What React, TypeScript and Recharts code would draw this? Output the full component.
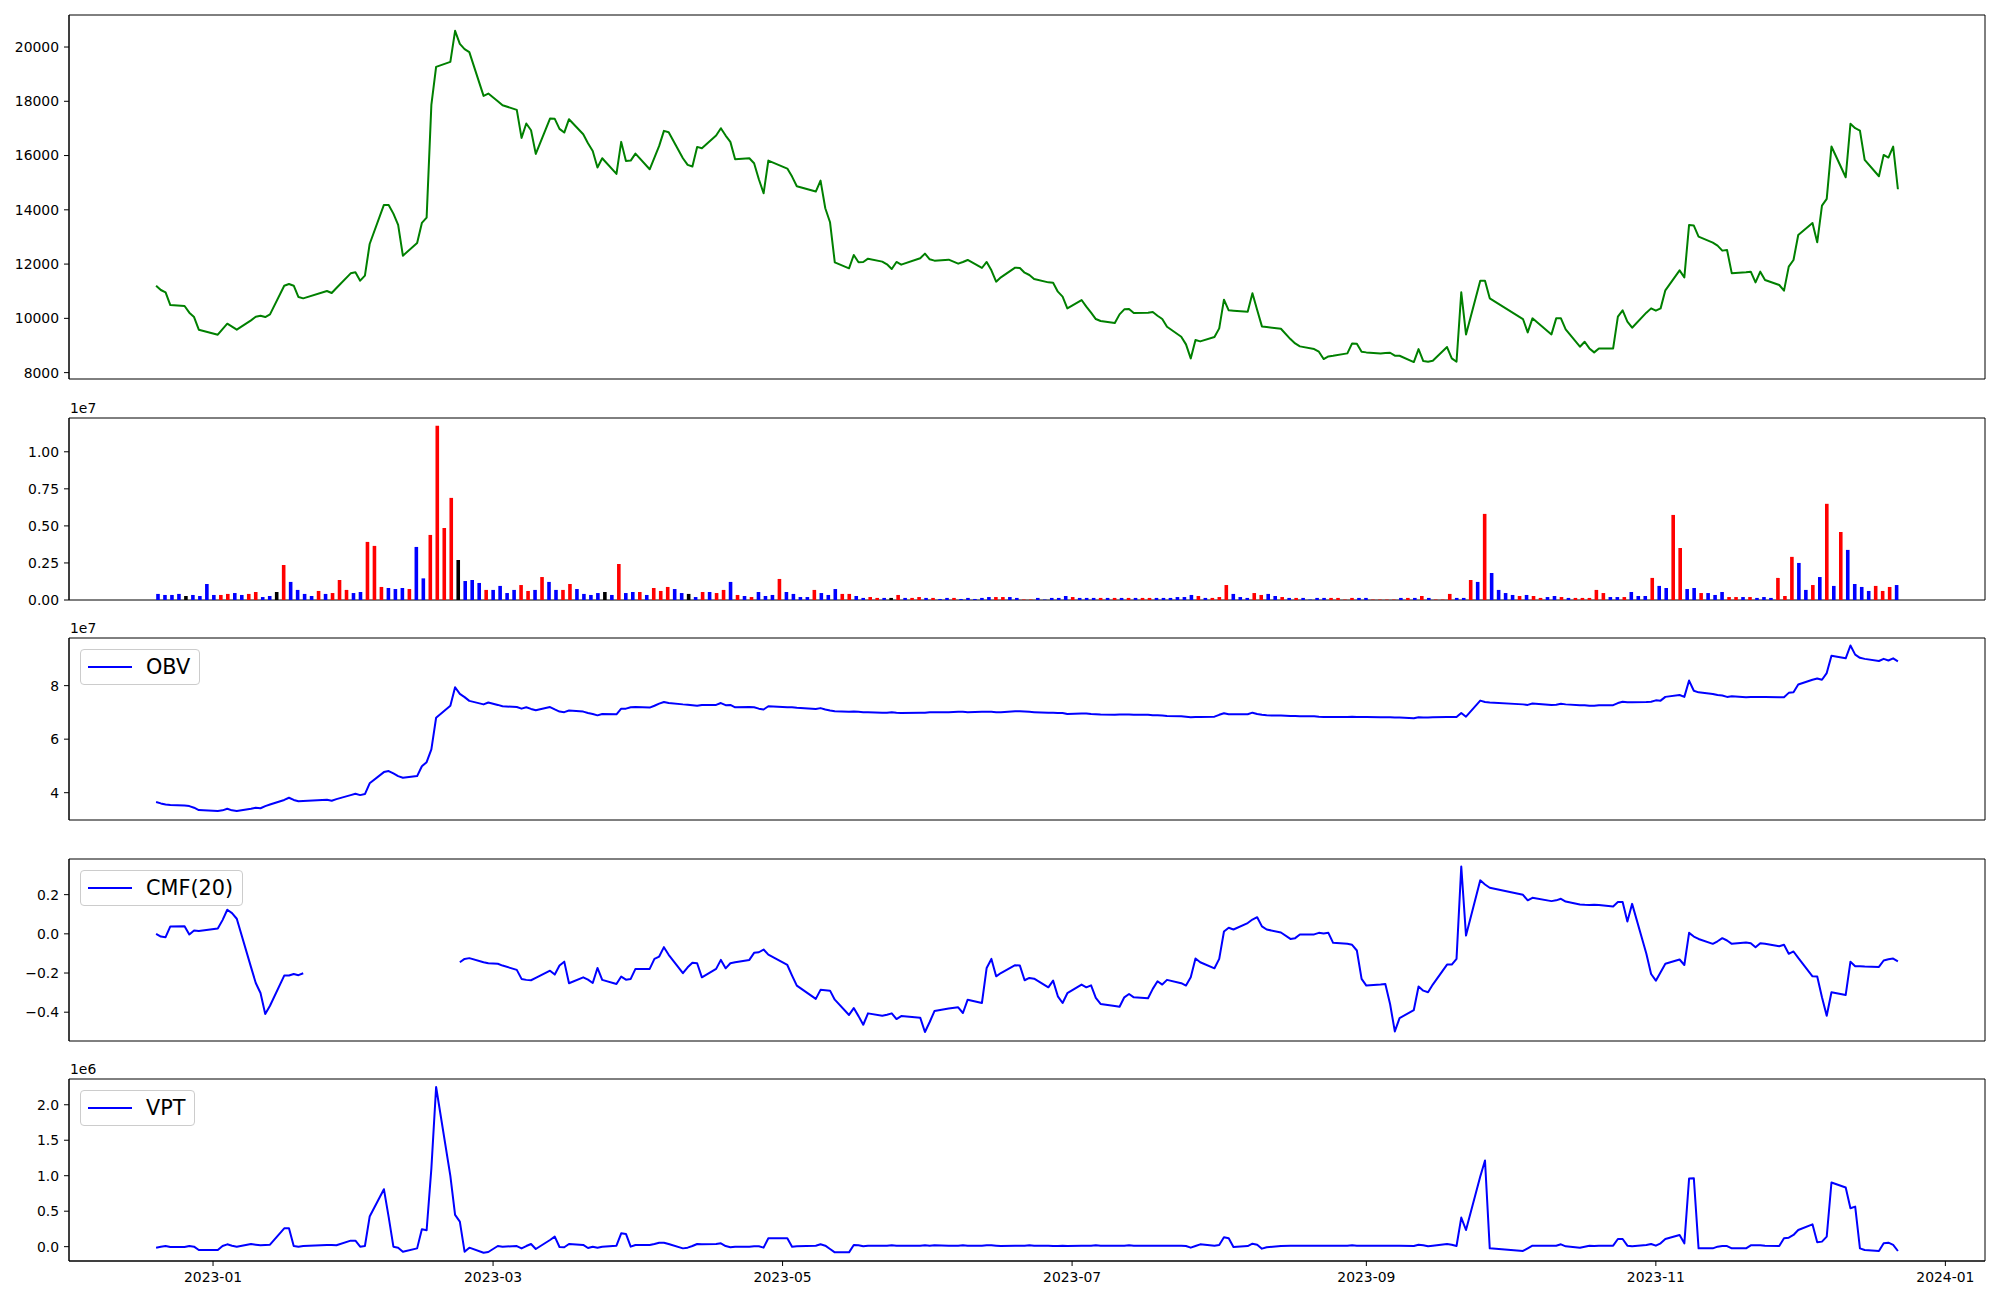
import React from "react"
import { LineChart, BarChart, Line, Bar, Cell, XAxis, YAxis, Legend, Label, ReferenceArea } from "recharts"

const FONT = "DejaVu Sans, sans-serif"

// KRX trading calendar covered by the chart
const START = "2022-12-20"
const END = "2023-12-22"
const HOLIDAYS = [
  "2022-12-30", "2023-01-23", "2023-01-24", "2023-03-01", "2023-05-01", "2023-05-05",
  "2023-05-29", "2023-06-06", "2023-08-15", "2023-09-28", "2023-09-29", "2023-10-02",
  "2023-10-03", "2023-10-09",
]

// close price, one value per trading day (grouped by month)
const PRICE = [
  11204, 11045, 10959, 10491, 10455, 10209, 10049, 9582,
  9397, 9606, 9803, 9692, 9582, 9926, 10061, 10098, 10049, 10147, 11204, 11266, 11204, 10786, 10737, 11008, 10934, 11118, 11659, 11696,
  11389, 11573, 12741, 14180, 14180, 13860, 13442, 12311, 12778, 13516, 13713, 17868, 19270, 19454, 20598, 20118, 19922, 19811, 18200, 18286,
  18004, 17856, 17684, 16651, 17180, 16934, 16061, 17364, 17352, 16983, 16848, 17340, 16786, 16454, 16171, 15557, 15901, 15323, 16504, 15803, 15815, 16073,
  15495, 15926, 16356, 16909, 16860, 15901, 15655, 15594, 16319, 16270, 16737, 17008, 16737, 16504, 15864, 15901, 15717, 15127, 14610, 15815,
  15520, 15225, 14868, 14672, 15077, 14057, 13541, 12065, 11844, 12336, 12065, 12078, 12200, 12090, 11991, 11819, 12078, 11979, 12213, 12385,
  12176, 12127, 12164, 12016, 12078, 12151, 11856, 12078, 11770, 11352, 11512, 11868, 11856, 11684, 11598, 11450, 11327, 11315, 10983, 10799, 10368,
  10676, 10430, 10209, 9975, 9901, 9827, 10147, 10332, 10344, 10197, 10209, 10233, 10098, 9975, 9692, 9323, 9041, 8524, 9200, 9151, 9311,
  9631, 10688, 10295, 10282, 10245, 10922, 10307, 9704, 9680, 9618, 9237, 9077, 8967, 8868, 8770, 8500, 8598, 8622, 8709, 9077, 9065, 8770,
  8746, 8709, 8721, 8733, 8623, 8623, 8389, 8868, 8426, 8401, 8438, 8942, 8524, 8401, 10959, 9409, 11389, 11389, 10737,
  9975, 9483, 10000, 9409, 10000, 10000, 9594, 8954, 9139, 8893, 8746, 8893, 8893, 10061, 10295, 9877, 9655, 10209, 10368,
  10283, 10368, 11032, 11770, 11512, 13442, 13418, 13012, 12791, 12680, 12496, 12520, 11659, 11696, 11721, 11327, 11721, 11413, 11229, 11020, 11905, 12151,
  13073, 13516, 12803, 14155, 14401, 16332, 15200, 17168, 17008, 16922, 15840, 15237, 16024, 15926, 16332, 14758,
]

// volume in units of 1e7
const VOLUME = [
  0.041, 0.034, 0.034, 0.041, 0.027, 0.034, 0.027, 0.108,
  0.034, 0.034, 0.041, 0.047, 0.034, 0.041, 0.054, 0.020, 0.027, 0.054, 0.236, 0.122, 0.068, 0.041, 0.027, 0.061, 0.041, 0.047, 0.135, 0.068,
  0.047, 0.054, 0.392, 0.365, 0.088, 0.081, 0.074, 0.081, 0.074, 0.358, 0.146, 0.439, 1.176, 0.486, 0.689, 0.270, 0.128, 0.135, 0.115, 0.068,
  0.068, 0.095, 0.047, 0.068, 0.101, 0.061, 0.068, 0.155, 0.122, 0.068, 0.068, 0.108, 0.074, 0.041, 0.034, 0.047, 0.054, 0.034, 0.243, 0.047, 0.054, 0.054,
  0.034, 0.081, 0.061, 0.088, 0.074, 0.047, 0.041, 0.020, 0.054, 0.054, 0.047, 0.068, 0.122, 0.034, 0.027, 0.020, 0.054, 0.027, 0.034, 0.142,
  0.054, 0.041, 0.020, 0.020, 0.068, 0.047, 0.034, 0.074, 0.041, 0.041, 0.027, 0.014, 0.020, 0.014, 0.014, 0.014, 0.034, 0.014, 0.014, 0.020,
  0.014, 0.014, 0.007, 0.014, 0.014, 0.007, 0.014, 0.007, 0.014, 0.020, 0.020, 0.020, 0.020, 0.014, 0.003, 0.003, 0.014, 0.003, 0.014, 0.014, 0.027,
  0.020, 0.014, 0.014, 0.014, 0.014, 0.014, 0.014, 0.014, 0.014, 0.014, 0.014, 0.014, 0.014, 0.014, 0.014, 0.020, 0.020, 0.034, 0.027, 0.014, 0.014,
  0.020, 0.101, 0.041, 0.020, 0.014, 0.047, 0.034, 0.041, 0.027, 0.020, 0.014, 0.014, 0.014, 0.003, 0.014, 0.014, 0.014, 0.014, 0.003, 0.014, 0.014, 0.014,
  0.003, 0.003, 0.003, 0.003, 0.014, 0.014, 0.014, 0.027, 0.014, 0.003, 0.003, 0.041, 0.014, 0.014, 0.135, 0.122, 0.581, 0.182, 0.068,
  0.047, 0.034, 0.027, 0.034, 0.027, 0.014, 0.020, 0.027, 0.020, 0.014, 0.014, 0.014, 0.014, 0.068, 0.047, 0.020, 0.020, 0.020, 0.054,
  0.027, 0.027, 0.149, 0.095, 0.081, 0.574, 0.351, 0.074, 0.081, 0.047, 0.047, 0.034, 0.054, 0.020, 0.020, 0.020, 0.020, 0.014, 0.020, 0.014, 0.149, 0.027,
  0.291, 0.250, 0.068, 0.101, 0.155, 0.649, 0.095, 0.459, 0.338, 0.108, 0.088, 0.061, 0.095, 0.061, 0.088, 0.101,
]

// bar colour per day: r = up candle, b = down candle, k = unchanged
const VOLUME_COLOR = [
  "bbbbkbbb",
  "brrbbrrbbkrbbbbrbrrr",
  "bbrrrbbbrbbrrrrkbbbr",
  "bbbbrrbrbbrrbbbbkbrbbr",
  "brrrbbkbrbrrbrbrbbbr",
  "bbbbrbbbrrbbrrbkrbrr",
  "brbbrbbbbbrrbbrrbbbbb",
  "rbbbrbrbrbrrbbbbbbrbr",
  "rrbbbrrbbrbrbbbbrrrrbb",
  "rrrrbrbrbrrrbbrbrbb",
  "bbrbrrbbrbrrrrrbbrb",
  "bbrbbrrbbrbbbrrbrbbbrr",
  "rbbrbrbrbbbbrrrb",
].join("")

// on-balance volume, units of 1e7
const OBV = [
  3.65, 3.60, 3.56, 3.54, 3.52, 3.50, 3.44, 3.35,
  3.32, 3.34, 3.40, 3.34, 3.32, 3.40, 3.44, 3.42, 3.50, 3.56, 3.73, 3.81, 3.73, 3.68, 3.69, 3.74, 3.70, 3.76, 3.91, 3.96,
  3.91, 3.95, 4.35, 4.77, 4.81, 4.72, 4.62, 4.56, 4.62, 4.99, 5.14, 5.62, 6.80, 7.25, 7.94, 7.69, 7.57, 7.43, 7.30, 7.37,
  7.28, 7.23, 7.20, 7.14, 7.19, 7.13, 7.08, 7.20, 7.11, 7.03, 7.01, 7.07, 7.03, 6.98, 6.94, 6.89, 6.94, 6.93, 7.14, 7.14, 7.19, 7.20,
  7.18, 7.25, 7.33, 7.39, 7.35, 7.30, 7.29, 7.27, 7.25, 7.28, 7.28, 7.35, 7.27, 7.28, 7.19, 7.20, 7.19, 7.14, 7.11, 7.23,
  7.19, 7.19, 7.17, 7.13, 7.16, 7.11, 7.07, 7.04, 7.02, 7.03, 7.02, 7.01, 7.01, 6.99, 6.99, 7.01, 6.99, 6.98, 6.99, 6.99,
  7.01, 7.01, 7.01, 7.02, 7.02, 7.01, 7.02, 7.02, 7.02, 7.01, 7.01, 7.04, 7.04, 7.03, 7.02, 7.01, 6.99, 6.99, 6.98, 6.98, 6.94,
  6.96, 6.96, 6.94, 6.93, 6.92, 6.91, 6.92, 6.92, 6.92, 6.91, 6.91, 6.89, 6.89, 6.88, 6.87, 6.86, 6.84, 6.82, 6.83, 6.83, 6.84,
  6.91, 6.97, 6.93, 6.93, 6.93, 6.99, 6.94, 6.91, 6.89, 6.88, 6.87, 6.87, 6.86, 6.86, 6.84, 6.83, 6.83, 6.83, 6.83, 6.84, 6.83, 6.83,
  6.83, 6.82, 6.82, 6.82, 6.81, 6.81, 6.78, 6.82, 6.81, 6.81, 6.82, 6.83, 6.83, 6.83, 6.98, 6.84, 7.44, 7.39, 7.37,
  7.30, 7.28, 7.33, 7.28, 7.29, 7.32, 7.30, 7.27, 7.27, 7.25, 7.25, 7.27, 7.27, 7.35, 7.40, 7.38, 7.38, 7.39, 7.40,
  7.45, 7.44, 7.58, 7.65, 7.58, 8.19, 7.81, 7.75, 7.69, 7.65, 7.63, 7.58, 7.60, 7.57, 7.58, 7.58, 7.58, 7.58, 7.57, 7.57, 7.73, 7.75,
  8.04, 8.22, 8.27, 8.22, 8.47, 9.12, 9.02, 9.50, 9.16, 9.04, 9.00, 8.92, 9.00, 8.94, 9.02, 8.91,
]

// Chaikin money flow (20), null where undefined
const CMF = [
  0.000, -0.014, -0.017, 0.038, 0.039, -0.003, 0.017, 0.014,
  0.027, 0.070, 0.123, 0.106, 0.077, -0.170, -0.251, -0.302, -0.409, -0.367, -0.213, -0.213, -0.205, -0.211, -0.201, null, null, null, null, null,
  null, null, null, null, null, null, null, null, null, null, null, null, null, null, null, -0.145, -0.128, -0.124, -0.145, -0.150,
  -0.153, -0.162, -0.184, -0.230, -0.235, -0.237, -0.225, -0.188, -0.208, -0.162, -0.142, -0.252, -0.222, -0.234, -0.251, -0.174, -0.235, -0.256, -0.218, -0.234, -0.230, -0.179,
  -0.179, -0.128, -0.116, -0.068, -0.107, -0.201, -0.171, -0.148, -0.150, -0.222, -0.179, -0.133, -0.176, -0.150, -0.145, -0.133, -0.097, -0.094, -0.080, -0.106,
  -0.159, -0.213, -0.264, -0.332, -0.286, -0.288, -0.290, -0.336, -0.414, -0.379, -0.420, -0.464, -0.406, -0.418, -0.413, -0.406, -0.435, -0.420, -0.428, -0.501,
  -0.450, -0.394, -0.381, -0.375, -0.404, -0.336, -0.353, -0.174, -0.128, -0.217, -0.200, -0.160, -0.162, -0.237, -0.225, -0.229, -0.273, -0.239, -0.319, -0.353, -0.303,
  -0.259, -0.273, -0.263, -0.327, -0.358, -0.368, -0.372, -0.324, -0.307, -0.324, -0.329, -0.281, -0.242, -0.259, -0.235, -0.252, -0.264, -0.222, -0.126, -0.145, -0.176,
  -0.128, 0.012, 0.031, 0.022, 0.055, 0.073, 0.085, 0.038, 0.022, 0.007, -0.026, -0.022, -0.003, -0.003, 0.005, 0.002, 0.005, -0.046, -0.051, -0.056, -0.085, -0.230,
  -0.264, -0.259, -0.256, -0.358, -0.498, -0.430, -0.389, -0.269, -0.290, -0.298, -0.259, -0.157, -0.157, -0.128, 0.344, -0.009, 0.273, 0.252, 0.235,
  0.199, 0.171, 0.184, 0.167, 0.171, 0.179, 0.165, 0.150, 0.148, 0.147, 0.148, 0.147, 0.140, 0.162, 0.162, 0.063, 0.153, -0.102, -0.205,
  -0.239, -0.196, -0.153, -0.131, -0.159, 0.005, -0.014, -0.026, -0.051, -0.038, -0.022, -0.034, -0.051, -0.044, -0.048, -0.068, -0.048, -0.051, -0.063, -0.056, -0.102, -0.090,
  -0.123, -0.217, -0.218, -0.324, -0.418, -0.298, -0.312, -0.142, -0.165, -0.165, -0.167, -0.169, -0.136, -0.130, -0.126, -0.140,
]

// volume price trend, units of 1e6
const VPT = [
  -0.014, 0.000, 0.009, -0.005, -0.005, 0.009, 0.000, -0.047,
  -0.047, 0.009, 0.033, 0.014, 0.000, 0.038, 0.028, 0.019, 0.024, 0.028, 0.259, 0.259, 0.009, 0.000, 0.009, 0.024, 0.024, 0.019, 0.085, 0.085,
  0.000, 0.009, 0.424, 0.810, 0.420, 0.000, -0.014, -0.071, -0.024, 0.245, 0.231, 1.100, 2.250, 0.998, 0.447, 0.353, -0.071, -0.014, -0.085, -0.075,
  0.009, 0.000, 0.009, -0.024, 0.009, 0.038, -0.033, 0.094, 0.141, -0.005, -0.009, 0.038, 0.024, -0.019, 0.000, -0.014, 0.000, 0.014, 0.188, 0.179, 0.000, 0.024,
  0.024, 0.038, 0.056, 0.056, 0.038, -0.024, -0.014, 0.009, 0.038, 0.033, 0.038, 0.047, 0.009, -0.009, 0.000, 0.000, 0.005, 0.005, -0.014, 0.118,
  0.118, 0.000, 0.005, 0.014, 0.033, 0.014, -0.033, -0.080, -0.080, 0.024, 0.019, 0.005, 0.014, 0.014, 0.014, 0.019, 0.014, 0.014, 0.014, 0.019,
  0.014, 0.019, 0.014, 0.014, 0.019, 0.014, 0.014, 0.019, 0.019, 0.014, 0.009, 0.014, 0.014, 0.014, 0.019, 0.014, 0.014, 0.009, 0.009, 0.014, 0.009,
  0.014, 0.014, 0.014, 0.019, 0.014, 0.014, 0.014, 0.014, 0.019, 0.014, 0.014, 0.014, 0.014, 0.014, 0.014, 0.014, 0.009, -0.014, 0.009, 0.033, 0.014,
  0.024, 0.132, 0.118, -0.005, 0.009, 0.042, 0.028, -0.028, -0.009, 0.009, 0.014, 0.014, 0.014, 0.014, 0.014, 0.014, 0.014, 0.014, 0.014, 0.019, 0.014, 0.014,
  0.014, 0.014, 0.014, 0.014, 0.014, 0.014, 0.009, 0.028, 0.019, 0.005, 0.014, 0.038, 0.028, 0.009, 0.410, 0.235, 0.989, 1.215, -0.024,
  -0.061, -0.024, 0.014, 0.014, 0.014, 0.033, 0.005, -0.014, 0.000, 0.014, 0.009, 0.014, 0.014, 0.108, 0.108, 0.014, 0.005, 0.024, 0.038,
  0.014, 0.047, 0.108, 0.165, 0.047, 0.960, 0.965, -0.024, -0.024, 0.000, 0.009, 0.009, -0.024, -0.024, 0.019, 0.019, 0.019, 0.014, 0.009, 0.118, 0.127, 0.165,
  0.235, 0.315, 0.061, 0.071, 0.141, 0.904, 0.833, 0.541, 0.565, -0.024, -0.047, -0.061, 0.047, 0.056, 0.024, -0.061,
]

const X_TICKS = [0, 59, 120, 181, 243, 304, 365]
const X_TICK_LABELS = ["2023-01", "2023-03", "2023-05", "2023-07", "2023-09", "2023-11", "2024-01"]
const PRICE_TICKS = [8000, 10000, 12000, 14000, 16000, 18000, 20000]
const VOLUME_TICKS = [0, 0.25, 0.5, 0.75, 1.0]
const OBV_TICKS = [4, 6, 8]
const CMF_TICKS = [-0.4, -0.2, 0, 0.2]
const VPT_TICKS = [0, 0.5, 1.0, 1.5, 2.0]

const DAY = 86400000
const EPOCH = Date.UTC(2023, 0, 1)

// day offsets (from 2023-01-01) of every trading session
function tradingDays(): number[] {
  const skip = new Set(HOLIDAYS)
  const out: number[] = []
  for (let t = Date.parse(START); t <= Date.parse(END); t += DAY) {
    const dt = new Date(t)
    const wd = dt.getUTCDay()
    if (wd === 0 || wd === 6 || skip.has(dt.toISOString().slice(0, 10))) continue
    out.push(Math.round((t - EPOCH) / DAY))
  }
  return out
}

const days = tradingDays()
const rows = days.map((d, i) => ({ d, price: PRICE[i], obv: OBV[i], cmf: CMF[i], vpt: VPT[i] }))
const volRows = VOLUME.map((v, i) => ({ i, v, c: VOLUME_COLOR[i] }))

const COLORS: Record<string, string> = { r: "#ff0000", b: "#0000ff", k: "#000000" }

const X_DOMAIN = [-30.35, 373.35]
const IDX_DOMAIN = [-12.7, 261.7]
const PRICE_DOMAIN = [7765, 21180]
const VOLUME_DOMAIN = [0, 1.228]
const OBV_DOMAIN = [2.98, 9.78]
const CMF_DOMAIN = [-0.547, 0.382]
const VPT_DOMAIN = [-0.202, 2.363]

const AXIS = { stroke: "#000", strokeWidth: 1 }
const TICK = { fontSize: 13.9, fill: "#000", fontFamily: FONT }
const W = 2000
const MARGIN_RIGHT = 15
const Y_WIDTH = 69

const minus = (s: string) => s.replace("-", "\u2212")

function OffsetText({ viewBox, text }: any) {
  if (!viewBox) return null
  return (
    <text x={viewBox.x + viewBox.width + 1} y={viewBox.y - 5} fontSize={13.9} fontFamily={FONT} fill="#000">
      {text}
    </text>
  )
}

function LegendBox({ label }: { label: string }) {
  return (
    <div
      style={{
        display: "inline-flex",
        alignItems: "center",
        border: "1px solid #cccccc",
        borderRadius: 4,
        background: "rgba(255,255,255,0.8)",
        padding: "7px 9px 7px 7px",
        fontFamily: FONT,
        fontSize: 20.8,
        lineHeight: "20.4px",
        color: "#000",
        whiteSpace: "nowrap",
      }}
    >
      <svg width={44} height={4} style={{ display: "block" }}>
        <line x1={0} y1={2} x2={44} y2={2} stroke="#0000ff" strokeWidth={2} />
      </svg>
      <span style={{ marginLeft: 14 }}>{label}</span>
    </div>
  )
}

// full box of spines around the plot area
function frame(xd: number[], yd: number[]) {
  return (
    <ReferenceArea x1={xd[0]} x2={xd[1]} y1={yd[0]} y2={yd[1]} ifOverflow="visible"
      fill="none" fillOpacity={0} stroke="#000" strokeWidth={1} />
  )
}

function legend(label: string) {
  return (
    <Legend
      layout="horizontal"
      verticalAlign="middle"
      align="center"
      content={() => <LegendBox label={label} />}
      wrapperStyle={{ left: 80, top: 33.5, width: "auto", height: "auto" }}
    />
  )
}

function Slot({ top, children }: { top: number; children: React.ReactNode }) {
  return <div style={{ position: "absolute", left: 0, top }}>{children}</div>
}

export default function App() {
  return (
    <div style={{ position: "absolute", left: 0, top: 0, width: 2000, height: 1300, background: "#fff", overflow: "hidden" }}>
      {/* price */}
      <Slot top={0}>
        <LineChart width={W} height={385} data={rows} margin={{ top: 15, right: MARGIN_RIGHT, bottom: 6, left: 0 }}>
          <XAxis dataKey="d" type="number" domain={X_DOMAIN} allowDataOverflow height={0} tick={false} tickLine={false} axisLine={AXIS} />
          <YAxis width={Y_WIDTH} domain={PRICE_DOMAIN} allowDataOverflow ticks={PRICE_TICKS} interval={0}
            tick={TICK} tickLine={AXIS} axisLine={AXIS} tickSize={5} tickMargin={5} />
          {frame(X_DOMAIN, PRICE_DOMAIN)}
          <Line type="linear" dataKey="price" stroke="#008000" strokeWidth={2} strokeLinejoin="round" dot={false} isAnimationActive={false} />
        </LineChart>
      </Slot>

      {/* volume */}
      <Slot top={395}>
        <BarChart width={W} height={215} data={volRows} margin={{ top: 23, right: MARGIN_RIGHT, bottom: 10, left: 0 }}>
          <XAxis dataKey="i" type="number" domain={IDX_DOMAIN} allowDataOverflow height={0} tick={false} tickLine={false} axisLine={AXIS} />
          <YAxis width={Y_WIDTH} domain={VOLUME_DOMAIN} allowDataOverflow ticks={VOLUME_TICKS} interval={0}
            tickFormatter={(v: number) => v.toFixed(2)} tick={TICK} tickLine={AXIS} axisLine={AXIS} tickSize={5} tickMargin={5}>
            <Label content={<OffsetText text="1e7" />} />
          </YAxis>
          {frame(IDX_DOMAIN, VOLUME_DOMAIN)}
          <Bar dataKey="v" barSize={3.6} isAnimationActive={false}>
            {volRows.map((r) => (
              <Cell key={r.i} fill={COLORS[r.c]} />
            ))}
          </Bar>
        </BarChart>
      </Slot>

      {/* OBV */}
      <Slot top={615}>
        <LineChart width={W} height={210} data={rows} margin={{ top: 23, right: MARGIN_RIGHT, bottom: 5, left: 0 }}>
          <XAxis dataKey="d" type="number" domain={X_DOMAIN} allowDataOverflow height={0} tick={false} tickLine={false} axisLine={AXIS} />
          <YAxis width={Y_WIDTH} domain={OBV_DOMAIN} allowDataOverflow ticks={OBV_TICKS} interval={0}
            tick={TICK} tickLine={AXIS} axisLine={AXIS} tickSize={5} tickMargin={5}>
            <Label content={<OffsetText text="1e7" />} />
          </YAxis>
          {frame(X_DOMAIN, OBV_DOMAIN)}
          {legend("OBV")}
          <Line type="linear" dataKey="obv" name="OBV" stroke="#0000ff" strokeWidth={2} strokeLinejoin="round" dot={false} isAnimationActive={false} />
        </LineChart>
      </Slot>

      {/* CMF */}
      <Slot top={836}>
        <LineChart width={W} height={210} data={rows} margin={{ top: 23, right: MARGIN_RIGHT, bottom: 5, left: 0 }}>
          <XAxis dataKey="d" type="number" domain={X_DOMAIN} allowDataOverflow height={0} tick={false} tickLine={false} axisLine={AXIS} />
          <YAxis width={Y_WIDTH} domain={CMF_DOMAIN} allowDataOverflow ticks={CMF_TICKS} interval={0}
            tickFormatter={(v: number) => minus(v.toFixed(1))} tick={TICK} tickLine={AXIS} axisLine={AXIS} tickSize={5} tickMargin={5} />
          {frame(X_DOMAIN, CMF_DOMAIN)}
          {legend("CMF(20)")}
          <Line type="linear" dataKey="cmf" name="CMF(20)" stroke="#0000ff" strokeWidth={2} strokeLinejoin="round" dot={false} isAnimationActive={false} />
        </LineChart>
      </Slot>

      {/* VPT */}
      <Slot top={1056}>
        <LineChart width={W} height={244} data={rows} margin={{ top: 23, right: MARGIN_RIGHT, bottom: 0, left: 0 }}>
          <XAxis dataKey="d" type="number" domain={X_DOMAIN} allowDataOverflow height={39} ticks={X_TICKS} interval={0}
            tickFormatter={(v: number) => X_TICK_LABELS[X_TICKS.indexOf(v)]}
            tick={TICK} tickLine={AXIS} axisLine={AXIS} tickSize={5} tickMargin={6} />
          <YAxis width={Y_WIDTH} domain={VPT_DOMAIN} allowDataOverflow ticks={VPT_TICKS} interval={0}
            tickFormatter={(v: number) => v.toFixed(1)} tick={TICK} tickLine={AXIS} axisLine={AXIS} tickSize={5} tickMargin={5}>
            <Label content={<OffsetText text="1e6" />} />
          </YAxis>
          {frame(X_DOMAIN, VPT_DOMAIN)}
          {legend("VPT")}
          <Line type="linear" dataKey="vpt" name="VPT" stroke="#0000ff" strokeWidth={2} strokeLinejoin="round" dot={false} isAnimationActive={false} />
        </LineChart>
      </Slot>
    </div>
  )
}
